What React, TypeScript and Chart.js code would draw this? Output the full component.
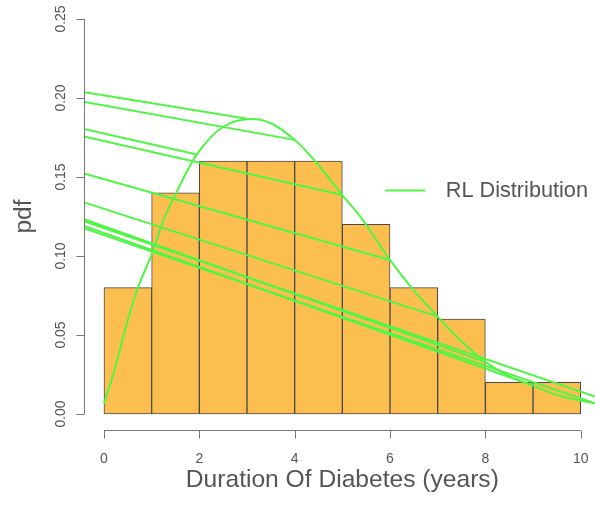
import React, { useEffect, useRef } from 'react';
import { Chart, registerables } from 'chart.js';

Chart.register(...registerables);

// Histogram (density) of duration of diabetes
const binCenters = [0.5, 1.5, 2.5, 3.5, 4.5, 5.5, 6.5, 7.5, 8.5, 9.5];
const densities = [0.08, 0.14, 0.16, 0.16, 0.16, 0.12, 0.08, 0.06, 0.02, 0.02];

// Fitted RL density curve
const curveX = [0, 0.25, 0.44, 0.7, 1.0, 1.25, 1.45, 1.95, 2.5, 3.1, 3.5, 4.0, 4.5, 5.0, 5.4, 6.0, 6.45, 7.0, 7.5, 8.0, 8.5, 9.0, 9.5, 10.0, 10.3];
const curveY = [0.0065, 0.031, 0.053, 0.079, 0.101, 0.1228, 0.136, 0.1643, 0.1818, 0.1867, 0.184, 0.1735, 0.1576, 0.1386, 0.124, 0.0975, 0.08, 0.0616, 0.046, 0.033, 0.024, 0.018, 0.012, 0.0085, 0.0068];

// Extra straight segments of the RL line (entering from the left edge)
const segStartX = -0.4;
const segStartY = [0.2036, 0.1975, 0.1802, 0.1755, 0.1521, 0.1338, 0.1231, 0.1218, 0.1188, 0.1173];
const segEndX = [3.0, 4.0, 1.95, 5.0, 6.0, 7.0, 8.0, 10.3, 9.0, 10.3];
const segEndY = [0.1868, 0.1735, 0.1643, 0.1386, 0.0975, 0.0616, 0.033, 0.011, 0.018, 0.0068];

const xTicks = [0, 2, 4, 6, 8, 10];
const yTicks = [0, 0.05, 0.1, 0.15, 0.2, 0.25];
const xLabel = 'Duration Of Diabetes (years)';
const yLabel = 'pdf';
const legendLabel = 'RL Distribution';

const GREEN = 'rgb(80,245,70)';
const FONT = '"Liberation Sans", Arial, sans-serif';
const TEXT = '#555555';
const AXIS = '#777777';

const rAxes = {
  id: 'rAxes',
  afterDraw(chart: any) {
    const { ctx, chartArea } = chart;
    const xs = chart.scales.x;
    const ys = chart.scales.y;
    ctx.save();
    ctx.strokeStyle = AXIS;
    ctx.lineWidth = 1;
    // x axis
    const ax = Math.round(chartArea.bottom) + 0.5;
    ctx.beginPath();
    ctx.moveTo(xs.getPixelForValue(xTicks[0]), ax);
    ctx.lineTo(xs.getPixelForValue(xTicks[xTicks.length - 1]), ax);
    xTicks.forEach((t) => {
      const px = Math.round(xs.getPixelForValue(t)) + 0.5;
      ctx.moveTo(px, ax);
      ctx.lineTo(px, ax + 8);
    });
    ctx.stroke();
    // y axis
    const ay = Math.round(chartArea.left) - 0.5;
    ctx.beginPath();
    ctx.moveTo(ay, ys.getPixelForValue(yTicks[0]));
    ctx.lineTo(ay, ys.getPixelForValue(yTicks[yTicks.length - 1]));
    yTicks.forEach((t) => {
      const py = Math.round(ys.getPixelForValue(t)) + 0.5;
      ctx.moveTo(ay, py);
      ctx.lineTo(ay - 8, py);
    });
    ctx.stroke();

    ctx.fillStyle = TEXT;
    ctx.font = `14px ${FONT}`;
    ctx.textAlign = 'center';
    ctx.textBaseline = 'alphabetic';
    xTicks.forEach((t) => {
      ctx.fillText(String(t), xs.getPixelForValue(t), ax + 32);
    });
    yTicks.forEach((t) => {
      ctx.save();
      ctx.translate(ay - 20, ys.getPixelForValue(t));
      ctx.rotate(-Math.PI / 2);
      ctx.fillText(t.toFixed(2), 0, 0);
      ctx.restore();
    });

    // axis titles
    ctx.font = `24.6px ${FONT}`;
    ctx.fillText(xLabel, (xs.getPixelForValue(xTicks[0]) + xs.getPixelForValue(xTicks[xTicks.length - 1])) / 2, ax + 56);
    ctx.save();
    ctx.translate(31, (ys.getPixelForValue(yTicks[0]) + ys.getPixelForValue(yTicks[yTicks.length - 1])) / 2);
    ctx.rotate(-Math.PI / 2);
    ctx.fillText(yLabel, 0, 0);
    ctx.restore();

    // legend
    const lx = xs.getPixelForValue(5.9);
    const ly = ys.getPixelForValue(0.1415);
    ctx.strokeStyle = GREEN;
    ctx.lineWidth = 2;
    ctx.beginPath();
    ctx.moveTo(lx, ly);
    ctx.lineTo(lx + 40, ly);
    ctx.stroke();
    ctx.font = `21.7px ${FONT}`;
    ctx.textAlign = 'left';
    ctx.textBaseline = 'middle';
    ctx.fillText(legendLabel, lx + 60.5, ly + 1);
    ctx.restore();
  },
};

export default function App() {
  const ref = useRef<HTMLCanvasElement | null>(null);
  useEffect(() => {
    if (!ref.current) return;
    const lineDs = (data: { x: number; y: number }[], tension = 0) => ({
      type: 'line' as const,
      data,
      borderColor: GREEN,
      borderWidth: 2,
      pointRadius: 0,
      fill: false,
      tension,
      cubicInterpolationMode: tension ? ('monotone' as const) : ('default' as const),
      clip: 0,
      order: 0,
    });
    const datasets: any[] = [
      {
        type: 'bar',
        data: binCenters.map((x, i) => ({ x, y: densities[i] })),
        backgroundColor: '#FDBE50',
        borderColor: '#4a4a4a',
        borderWidth: 1,
        borderSkipped: false,
        barPercentage: 1,
        categoryPercentage: 1,
        order: 1,
      },
      lineDs(curveX.map((x, i) => ({ x, y: curveY[i] })), 0.4),
      ...segStartY.map((y0, i) =>
        lineDs([
          { x: segStartX, y: y0 },
          { x: segEndX[i], y: segEndY[i] },
        ])
      ),
    ];
    const chart = new Chart(ref.current, {
      type: 'bar',
      data: { datasets },
      options: {
        responsive: false,
        animation: false,
        devicePixelRatio: 1,
        layout: { padding: { left: 84.9, right: 0, top: 3.2, bottom: 78.2 } },
        plugins: { legend: { display: false }, tooltip: { enabled: false } },
        scales: {
          x: {
            type: 'linear',
            min: -0.4,
            max: 10.3,
            offset: false,
            display: false,
            ticks: { stepSize: 2, includeBounds: false },
          },
          y: {
            type: 'linear',
            min: -0.01,
            max: 0.26,
            display: false,
            ticks: { stepSize: 0.05, includeBounds: false },
          },
        },
      },
      plugins: [rAxes],
    } as any);
    return () => chart.destroy();
  }, []);
  return (
    <div style={{ position: 'fixed', left: 0, top: 0, width: 595, height: 508, background: '#fff' }}>
      <canvas ref={ref} width={595} height={508} style={{ display: 'block', width: 595, height: 508 }} />
    </div>
  );
}
